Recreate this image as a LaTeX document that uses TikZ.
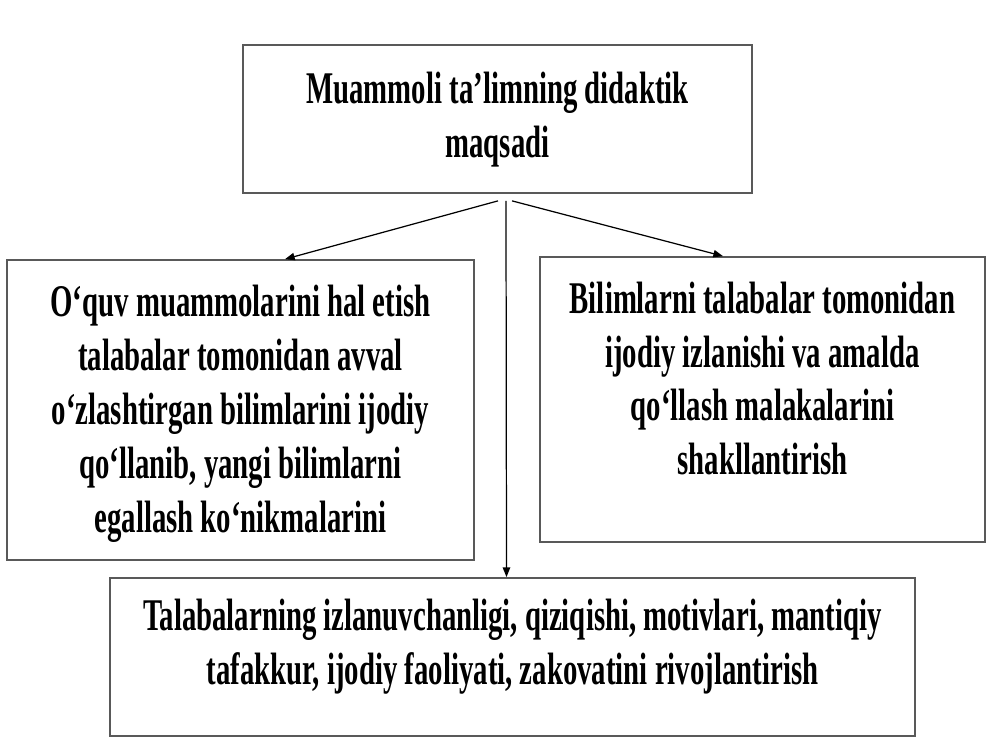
\documentclass[tikz,border=0pt]{standalone}
\usepackage{fontspec}
\setmainfont{Liberation Serif}[FakeStretch=0.635]
\usetikzlibrary{arrows.meta,calc}
\begin{document}
\begin{tikzpicture}[x=0.02cm,y=-0.02cm,
  box/.style={draw=black!65,line width=1pt,rectangle,inner sep=0pt},
  txt/.style={font=\fontsize{25.8}{30.7}\selectfont\bfseries,align=center,inner sep=0pt},
  arr/.style={draw=black,line width=0.7pt,-{Triangle[length=5.5pt,width=4.2pt]}}]
\useasboundingbox (0,0) rectangle (1000,750);
\fill[white] (0,0) rectangle (1000,750);
% boxes
\node[box,minimum width=10.18cm,minimum height=2.96cm] (top) at (497.5,119) {};
\node[box,minimum width=9.34cm,minimum height=6.0cm] (left) at (240.5,410) {};
\node[box,minimum width=8.9cm,minimum height=5.7cm] (right) at (762.5,399.5) {};
\node[box,minimum width=16.1cm,minimum height=3.16cm] (bottom) at (512.5,657) {};
% texts
\node[txt] (ttop) at (497.5,120) {Muammoli ta’limning didaktik\\maqsadi};
\node[txt] (tleft) at (240.5,414) {O‘quv muammolarini hal etish\\talabalar tomonidan avval\\o‘zlashtirgan bilimlarini ijodiy\\qo‘llanib, yangi bilimlarni\\egallash ko‘nikmalarini};
\node[txt] (tright) at (762.5,378.5) {Bilimlarni talabalar tomonidan\\ijodiy izlanishi va amalda\\qo‘llash malakalarini\\shakllantirish};
\node[txt] (tbottom) at (512.5,647) {Talabalarning izlanuvchanligi, qiziqishi, motivlari, mantiqiy\\tafakkur, ijodiy faoliyati, zakovatini rivojlantirish};
% connectors
\coordinate (s1) at ($(top.south)+(0.5,7)$);
\coordinate (s2) at ($(top.south)+(8.5,7)$);
\coordinate (s3) at ($(top.south)+(14.5,7)$);
\draw[arr] (s1) -- ($(left.north)+(44.5,0)$);
\draw[arr] (s2) -- ($(bottom.north)+(-6,0)$);
\draw[arr] (s3) -- ($(right.north)+(-39.5,0)$);
\end{tikzpicture}
\end{document}
